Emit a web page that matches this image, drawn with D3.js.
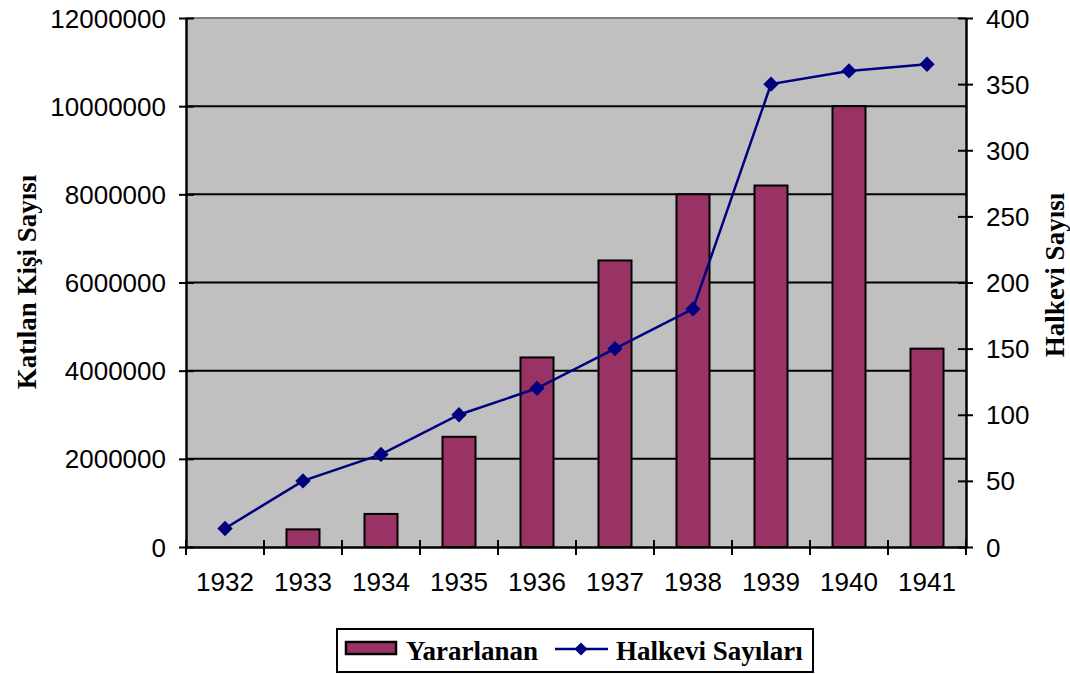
<!DOCTYPE html>
<html><head><meta charset="utf-8">
<script src="https://cdn.jsdelivr.net/npm/d3@7"></script>
<style>body{margin:0;background:#fff}</style>
</head><body>
<svg id="c" width="1070" height="674"></svg>
<script>
const years = ["1932","1933","1934","1935","1936","1937","1938","1939","1940","1941"];
const yararlanan = [0, 400000, 750000, 2500000, 4300000, 6500000, 8000000, 8200000, 10000000, 4500000];
const halkevi = [14, 50, 70, 100, 120, 150, 180, 350, 360, 365];
const leftTicks = [0,2000000,4000000,6000000,8000000,10000000,12000000];
const rightTicks = [0,50,100,150,200,250,300,350,400];

const svg = d3.select("#c");
const L=186, R=966, T=18, B=547;
const x = d3.scaleBand().domain(years).range([L,R]);
const yL = d3.scaleLinear().domain([0,12000000]).range([B,T]);
const yR = d3.scaleLinear().domain([0,400]).range([B,T]);

svg.append("rect").attr("x",L).attr("y",T).attr("width",R-L).attr("height",B-T).attr("fill","#c0c0c0");
svg.append("line").attr("x1",L).attr("x2",R).attr("y1",T).attr("y2",T).attr("stroke","#808080").attr("stroke-width",2);
// gridlines
svg.selectAll(".g").data(leftTicks.filter(d=>d>0&&d<12000000)).enter().append("line")
  .attr("x1",L).attr("x2",R).attr("y1",d=>yL(d)).attr("y2",d=>yL(d)).attr("stroke","#000").attr("stroke-width",2);

// bars
const bw = 33;
svg.selectAll(".bar").data(years.map((y,i)=>({y,v:yararlanan[i]})).filter(d=>d.v>0)).enter().append("rect")
  .attr("x",d=>x(d.y)+x.bandwidth()/2-bw/2).attr("width",bw)
  .attr("y",d=>yL(d.v)).attr("height",d=>B-yL(d.v))
  .attr("fill","#993366").attr("stroke","#000").attr("stroke-width",2);

// axes
const font = "'Liberation Sans', Arial, sans-serif";
const fs = "26px";
const gL = svg.append("g").attr("transform",`translate(${L},0)`)
  .call(d3.axisLeft(yL).tickValues(leftTicks).tickFormat(d3.format("d")).tickSize(0));
gL.select(".domain").attr("stroke","#000").attr("stroke-width",2.5);
gL.selectAll(".tick").append("line").attr("x1",-7).attr("x2",8).attr("stroke","#000").attr("stroke-width",2);
gL.selectAll("text").attr("x",-20).attr("dy","0.35em").style("font-family",font).style("font-size",fs).attr("fill","#000");

const gR = svg.append("g").attr("transform",`translate(${R},0)`)
  .call(d3.axisRight(yR).tickValues(rightTicks).tickSize(0));
gR.select(".domain").attr("stroke","#000").attr("stroke-width",2.5);
gR.selectAll(".tick").append("line").attr("x1",-8).attr("x2",7).attr("stroke","#000").attr("stroke-width",2);
gR.selectAll("text").attr("x",20).attr("dy","0.35em").style("font-family",font).style("font-size",fs).attr("fill","#000");

const gB = svg.append("g").attr("transform",`translate(0,${B})`)
  .call(d3.axisBottom(x).tickSize(0));
gB.select(".domain").attr("stroke","#000").attr("stroke-width",2.5);
gB.selectAll(".tick text").attr("y",35).attr("dy","0.35em").style("font-family",font).style("font-size",fs).attr("fill","#000");
const bounds = years.map(d=>x(d)).concat([R]);
gB.selectAll(".bt").data(bounds).enter().append("line")
  .attr("x1",d=>d).attr("x2",d=>d).attr("y1",-7).attr("y2",8).attr("stroke","#000").attr("stroke-width",2);

// line
const pts = years.map((y,i)=>[x(y)+x.bandwidth()/2, yR(halkevi[i])]);
svg.append("path").attr("d",d3.line()(pts)).attr("fill","none").attr("stroke","#000080").attr("stroke-width",2.5);
svg.selectAll(".m").data(pts).enter().append("path")
  .attr("transform",d=>`translate(${d[0]},${d[1]})`)
  .attr("d",d3.symbol().type(d3.symbolDiamond2).size(150)).attr("fill","#000080");

// axis titles
const tf = "'Liberation Serif', 'Times New Roman', serif";
svg.append("text").attr("transform",`translate(36,282) rotate(-90)`).attr("text-anchor","middle")
  .style("font-family",tf).style("font-weight","bold").style("font-size","27px").text("Katılan Kişi Sayısı");
svg.append("text").attr("transform",`translate(1064,275) rotate(-90)`).attr("text-anchor","middle")
  .style("font-family",tf).style("font-weight","bold").style("font-size","27px").text("Halkevi Sayısı");

// legend
const lg = svg.append("g");
lg.append("rect").attr("x",337).attr("y",629).attr("width",476).attr("height",43).attr("fill","#fff").attr("stroke","#000").attr("stroke-width",2);
lg.append("rect").attr("x",346).attr("y",642).attr("width",50).attr("height",12).attr("fill","#993366").attr("stroke","#000").attr("stroke-width",2.5);
lg.append("text").attr("x",406).attr("y",660).style("font-family",tf).style("font-weight","bold").style("font-size","27px").text("Yararlanan");
lg.append("line").attr("x1",555).attr("x2",608).attr("y1",649).attr("y2",649).attr("stroke","#000080").attr("stroke-width",2.5);
lg.append("path").attr("transform","translate(581,649)").attr("d",d3.symbol().type(d3.symbolDiamond2).size(110)).attr("fill","#000080");
lg.append("text").attr("x",616).attr("y",660).style("font-family",tf).style("font-weight","bold").style("font-size","27px").text("Halkevi Sayıları");
</script>
</body></html>
